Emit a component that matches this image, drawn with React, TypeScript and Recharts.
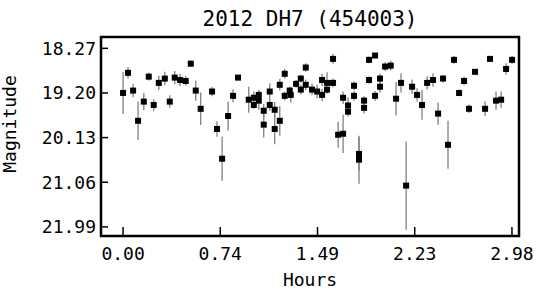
import {
  ScatterChart,
  Scatter,
  XAxis,
  YAxis,
  ErrorBar,
  ReferenceArea,
  Customized,
} from "recharts";

const hours = [
  0.0, 0.038, 0.077, 0.115, 0.159, 0.197, 0.235, 0.274, 0.32, 0.358, 0.396, 0.437, 0.48, 0.519,
  0.557, 0.595, 0.682, 0.72, 0.759, 0.805, 0.843, 0.881, 0.963, 1.002, 1.002, 1.04, 1.04, 1.078,
  1.078, 1.124, 1.124, 1.162, 1.162, 1.201, 1.201, 1.239, 1.239, 1.277, 1.285, 1.326, 1.362,
  1.362, 1.4, 1.4, 1.448, 1.487, 1.525, 1.525, 1.563, 1.563, 1.609, 1.609, 1.648, 1.686, 1.686,
  1.724, 1.724, 1.77, 1.77, 1.808, 1.808, 1.847, 1.847, 1.885, 1.885, 1.931, 1.931, 1.969, 1.969,
  2.008, 2.051, 2.092, 2.13, 2.169, 2.215, 2.253, 2.291, 2.33, 2.375, 2.414, 2.452, 2.49, 2.536,
  2.575, 2.613, 2.651, 2.697, 2.774, 2.812, 2.858, 2.897, 2.935, 2.981,
];

const mags = [
  19.2, 18.78, 19.15, 19.78, 19.38, 18.86, 19.45, 18.99, 18.9, 19.38, 18.88, 18.93, 18.95, 18.59,
  19.15, 19.53, 19.17, 19.95, 20.57, 19.68, 19.26, 18.88, 19.34, 19.3, 19.45, 19.24, 19.36, 19.57,
  19.86, 19.17, 19.45, 19.55, 19.95, 19.03, 19.78, 18.8, 19.26, 19.15, 19.24, 19.01, 18.9,
  19.13, 18.67, 19.03, 19.13, 19.17, 18.93, 19.24, 18.99, 19.13, 18.49, 18.99, 20.07, 20.05, 19.3,
  19.46, 19.59, 19.05, 19.26, 20.47, 20.59, 19.36, 19.51, 18.51, 18.93, 18.42, 19.26, 18.9, 19.07,
  18.65, 18.63, 19.32, 18.99, 21.13, 19.07, 19.24, 19.45, 18.99, 18.93, 19.63, 18.9, 20.28, 18.51,
  19.2, 18.95, 19.53, 18.76, 19.53, 18.49, 19.36, 19.34, 18.7, 18.51,
];

const errs = [
  0.44, 0.12, 0.14, 0.4, 0.18, 0.08, 0.12, 0.15, 0.14, 0.13, 0.14, 0.13, 0.1, 0.07,
  0.21, 0.34, 0.1, 0.16, 0.46, 0.3, 0.14, 0.03, 0.27, 0.13, 0.08, 0.1, 0.19, 0.14,
  0.27, 0.17, 0.12, 0.16, 0.32, 0.12, 0.31, 0.1, 0.09, 0.08, 0.16, 0.08, 0.08,
  0.1, 0.09, 0.11, 0.12, 0.14, 0.13, 0.13, 0.22, 0.08, 0.1, 0.09, 0.27, 0.4, 0.13,
  0.17, 0.1, 0.09, 0.1, 0.35, 0.5, 0.09, 0.12, 0.07, 0.08, 0.04, 0.1, 0.1, 0.12,
  0.09, 0.1, 0.35, 0.2, 0.92, 0.15, 0.14, 0.31, 0.14, 0.14, 0.23, 0.08, 0.5, 0.08,
  0.07, 0.09, 0.09, 0.04, 0.15, 0.04, 0.19, 0.17, 0.12, 0.08,
];

const xTicks = [0, 0.745, 1.49, 2.235, 2.98];
const xTickLabels = ["0.00", "0.74", "1.49", "2.23", "2.98"];
const yTicks = [18.27, 19.2, 20.13, 21.06, 21.99];

const X_DOMAIN: [number, number] = [-0.169, 3.034];
const Y_DOMAIN: [number, number] = [18.034, 22.18];

const data = hours.map((h, i) => ({ h, m: mags[i], e: errs[i] }));

const FONT = "'DejaVu Sans Mono', monospace";

const Square = (props: any) => {
  const { cx, cy } = props;
  return <rect x={cx - 3} y={cy - 3} width={6} height={6} fill="#000" />;
};

const Texts = () => (
  <g fontFamily={FONT} fill="#000">
    <text x={310} y={26} fontSize={21} textAnchor="middle">
      2012 DH7 (454003)
    </text>
    <text
      x={16}
      y={124}
      fontSize={18}
      textAnchor="middle"
      transform="rotate(-90, 16, 124)"
    >
      Magnitude
    </text>
  </g>
);

export default function App() {
  return (
    <div style={{ position: "absolute", left: 0, top: 0 }}>
      <ScatterChart
        width={537}
        height={291}
        margin={{ top: 37, right: 18, bottom: 0, left: 0 }}
      >
        <XAxis
          type="number"
          dataKey="h"
          domain={X_DOMAIN}
          ticks={xTicks}
          tickFormatter={(v: number) => xTickLabels[xTicks.indexOf(v)] ?? ""}
          height={55}
          axisLine={false}
          tickSize={-9}
          tickMargin={20}
          tickLine={{ stroke: "#000", strokeWidth: 1.5 }}
          tick={{ fontFamily: FONT, fontSize: 18, fill: "#000" }}
          interval={0}
          allowDataOverflow
          label={{
            value: "Hours",
            position: "insideBottom",
            offset: 5,
            style: { fontFamily: FONT, fontSize: 18, fill: "#000" },
          }}
        />
        <YAxis
          type="number"
          dataKey="m"
          domain={Y_DOMAIN}
          reversed
          ticks={yTicks}
          tickFormatter={(v: number) => v.toFixed(2)}
          width={101}
          axisLine={false}
          tickSize={-7}
          tickMargin={12}
          tickLine={{ stroke: "#000", strokeWidth: 1.5 }}
          tick={{ fontFamily: FONT, fontSize: 18, fill: "#000" }}
          interval={0}
          allowDataOverflow
        />
        <ReferenceArea
          x1={X_DOMAIN[0]}
          x2={X_DOMAIN[1]}
          y1={Y_DOMAIN[0]}
          y2={Y_DOMAIN[1]}
          fill="none"
          stroke="#000"
          strokeWidth={2.5}
          fillOpacity={0}
        />
        <Scatter data={data} shape={Square} isAnimationActive={false}>
          <ErrorBar
            dataKey="e"
            direction="y"
            width={0}
            stroke="#808080"
            strokeWidth={1.3}
          />
        </Scatter>
        <Customized component={Texts} />
      </ScatterChart>
    </div>
  );
}
